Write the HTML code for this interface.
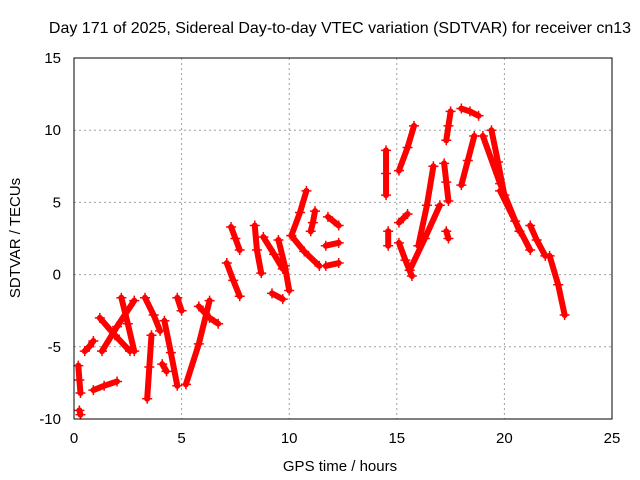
<!DOCTYPE html>
<html><head><meta charset="utf-8"><style>
body{margin:0;background:#fff;}
svg{display:block;font-family:"Liberation Sans",sans-serif;}
</style></head><body>
<svg id="chart" width="640" height="480" viewBox="0 0 640 480">
<rect width="640" height="480" fill="#fff"/>
<text x="340" y="33" font-size="16" text-anchor="middle" fill="#000">Day 171 of 2025, Sidereal Day-to-day VTEC variation (SDTVAR) for receiver cn13</text>
<g id="grid"></g>
<g id="ticks"></g>
<g id="marks"></g>
<rect x="74" y="58" width="538" height="361" fill="none" stroke="#000" stroke-width="1"/>
<text x="340" y="471" font-size="15" text-anchor="middle">GPS time / hours</text>
<text x="20" y="238" font-size="15" text-anchor="middle" transform="rotate(-90 20 238)">SDTVAR / TECUs</text>
</svg>
<script>
const xTicks=[0,5,10,15,20,25];
const yTicks=[-10,-5,0,5,10,15];
const tracks=[
[[0.2,-6.3],[0.25,-7.3],[0.3,-8.2]],
[[0.25,-9.4],[0.3,-9.7]],
[[0.5,-5.3],[0.7,-5.0],[0.9,-4.6]],
[[0.9,-8.0],[1.4,-7.7],[2.0,-7.4]],
[[1.2,-3.0],[1.9,-4.2],[2.6,-5.3]],
[[1.3,-5.3],[2.0,-3.6],[2.8,-1.8]],
[[2.2,-1.6],[2.5,-3.4],[2.8,-5.3]],
[[3.3,-1.6],[3.7,-2.8],[4.0,-3.9]],
[[3.6,-4.2],[3.5,-6.4],[3.4,-8.6]],
[[4.2,-3.2],[4.5,-5.4],[4.8,-7.7]],
[[4.1,-6.2],[4.3,-6.7]],
[[5.2,-7.6],[5.8,-4.8],[6.3,-1.8]],
[[5.8,-2.2],[6.3,-3.0],[6.7,-3.4]],
[[4.8,-1.6],[5.0,-2.5]],
[[7.3,3.3],[7.5,2.5],[7.7,1.7]],
[[7.1,0.8],[7.4,-0.4],[7.7,-1.5]],
[[8.4,3.4],[8.5,1.7],[8.7,0.1]],
[[8.8,2.6],[9.3,1.4],[9.7,0.4]],
[[9.5,2.4],[9.8,0.6],[10.0,-1.1]],
[[9.2,-1.3],[9.7,-1.7]],
[[10.8,5.8],[10.5,4.3],[10.1,2.7]],
[[10.1,2.7],[10.7,1.6],[11.4,0.6]],
[[11.2,4.4],[11.1,3.6],[11.0,3.0]],
[[11.8,4.0],[12.3,3.4]],
[[11.7,2.0],[12.3,2.2]],
[[11.7,0.6],[12.3,0.8]],
[[14.5,8.6],[14.5,7.0],[14.5,5.5]],
[[14.6,3.0],[14.6,2.0]],
[[15.1,7.2],[15.5,8.8],[15.8,10.3]],
[[15.1,3.6],[15.5,4.2]],
[[15.1,2.2],[15.4,1.0],[15.7,-0.1]],
[[15.6,0.3],[16.3,2.5],[17.0,4.8]],
[[16.0,2.0],[16.4,4.8],[16.7,7.5]],
[[17.2,7.7],[17.3,6.4],[17.4,5.1]],
[[17.5,11.3],[17.4,10.3],[17.3,9.3]],
[[17.3,3.0],[17.4,2.5]],
[[18.0,6.2],[18.3,7.9],[18.6,9.6]],
[[18.0,11.5],[18.4,11.3],[18.8,11.0]],
[[19.0,9.6],[19.8,6.3],[20.7,3.0]],
[[19.4,10.0],[19.7,7.8],[20.0,5.5]],
[[19.8,5.8],[20.5,3.7],[21.2,1.7]],
[[21.2,3.4],[21.5,2.4],[21.9,1.3]],
[[22.1,1.3],[22.5,-0.7],[22.8,-2.8]]
];
const X=h=>74+h*538/25, Y=v=>419-(v+10)*361/25;
const NS="http://www.w3.org/2000/svg";
const g=document.getElementById('grid'),t=document.getElementById('ticks'),m=document.getElementById('marks');
function el(tag,a,p){const e=document.createElementNS(NS,tag);for(const k in a)e.setAttribute(k,a[k]);p.appendChild(e);return e;}
xTicks.forEach(v=>{
  if(v>0&&v<25){const l=el('line',{x1:X(v),x2:X(v),y1:58,y2:419,stroke:'#a0a0a0','stroke-dasharray':'2,3'},g);
  
  }
  const s=el('text',{x:X(v),y:443,'font-size':15,'text-anchor':'middle'},t);s.textContent=v;
  
  
});
yTicks.forEach(v=>{
  if(v>-10&&v<15){const l=el('line',{x1:74,x2:612,y1:Y(v),y2:Y(v),stroke:'#a0a0a0','stroke-dasharray':'2,3'},g);
  
  }
  const s=el('text',{x:61,y:Y(v)+5,'font-size':15,'text-anchor':'end'},t);s.textContent=v;
  
  
});
tracks.forEach(tr=>{
  const pl=el('polyline',{points:tr.map(p=>X(p[0])+','+Y(p[1])).join(' '),fill:'none',stroke:'#f00','stroke-width':6,'stroke-linecap':'round','stroke-linejoin':'round'},m);
  
  
  tr.forEach(p=>{
    const x=X(p[0]),y=Y(p[1]);
    const pt=el('path',{d:`M${x-5},${y}h10M${x},${y-5}v10`,stroke:'#f00','stroke-width':1.5},m);
    
    
  });
});
</script>
</body></html>
